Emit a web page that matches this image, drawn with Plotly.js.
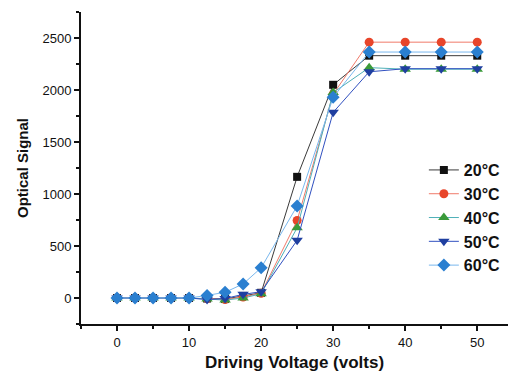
<!DOCTYPE html>
<html><head><meta charset="utf-8">
<script src="https://cdn.plot.ly/plotly-3.0.1.min.js"></script>
<style>html,body{margin:0;padding:0;background:#fff}</style>
</head><body><div id="c" style="width:508px;height:372px"></div>
<script>
const voltage = [0,2.5,5,7.5,10,12.5,15,17.5,20,25,30,35,40,45,50];
const s20 = [0,0,0,0,0,-5,-10,20,50,1165,2050,2330,2330,2330,2330];
const s30 = [0,0,0,0,0,-5,-15,10,45,745,1960,2460,2460,2460,2460];
const s40 = [0,0,0,0,0,-10,-20,0,40,675,1975,2215,2200,2200,2200];
const s50 = [0,0,0,0,0,-15,-5,35,60,555,1785,2175,2205,2205,2205];
const s60 = [0,0,0,0,0,25,55,135,290,885,1930,2365,2365,2365,2365];
const names = ['20°C','30°C','40°C','50°C','60°C'];

const series = [s20,s30,s40,s50,s60];
const styles = [
  {mc:'#111111', lc:'#3a3a3a', sym:'square', size:8},
  {mc:'#e8452a', lc:'#f07a6a', sym:'circle', size:9},
  {mc:'#3a9a3a', lc:'#4fb0b8', sym:'triangle-up', size:10},
  {mc:'#1f3fa0', lc:'#3050c0', sym:'triangle-down', size:10},
  {mc:'#2a7fd0', lc:'#7ab8ee', sym:'diamond', size:10}
];
const traces = series.map((y,i)=>({
  x: voltage, y: y, name: names[i], type:'scatter', mode:'lines+markers',
  line:{color:styles[i].lc, width:1},
  marker:{color:styles[i].mc, symbol:styles[i].sym, size:styles[i].size}
}));

const layout = {
  width:508, height:372,
  margin:{l:81, r:0, t:12, b:48},
  paper_bgcolor:'#fff', plot_bgcolor:'#fff',
  font:{family:'Arial, Liberation Sans, sans-serif', color:'#111'},
  showlegend:true,
  legend:{x:0.995, y:0.548, xanchor:'right', yanchor:'top', bgcolor:'rgba(0,0,0,0)',
    font:{size:16, weight:'bold', color:'#111'}, tracegroupgap:0, itemwidth:30},
  xaxis:{range:[-5,54.27], showgrid:false, zeroline:false, showline:true, linecolor:'#111', linewidth:2,
    ticks:'outside', ticklen:5, tickwidth:1.5, tickcolor:'#111', dtick:10, tick0:0,
    tickfont:{size:13, color:'#111'},
    minor:{ticks:'outside', ticklen:3, dtick:5, tick0:0, tickcolor:'#111'},
    title:{text:'Driving Voltage (volts)', font:{size:17, weight:'bold', color:'#111'}, standoff:14}},
  yaxis:{range:[-250,2750], showgrid:false, zeroline:false, showline:true, linecolor:'#111', linewidth:2,
    ticks:'outside', ticklen:5, tickwidth:1.5, tickcolor:'#111', dtick:500, tick0:0,
    tickfont:{size:13, color:'#111'},
    minor:{ticks:'outside', ticklen:3, dtick:250, tick0:0, tickcolor:'#111'},
    title:{text:'Optical Signal', font:{size:15, weight:'bold', color:'#111'}, standoff:10}}
};
Plotly.newPlot('c', traces, layout, {displayModeBar:false, staticPlot:true});
</script></body></html>
